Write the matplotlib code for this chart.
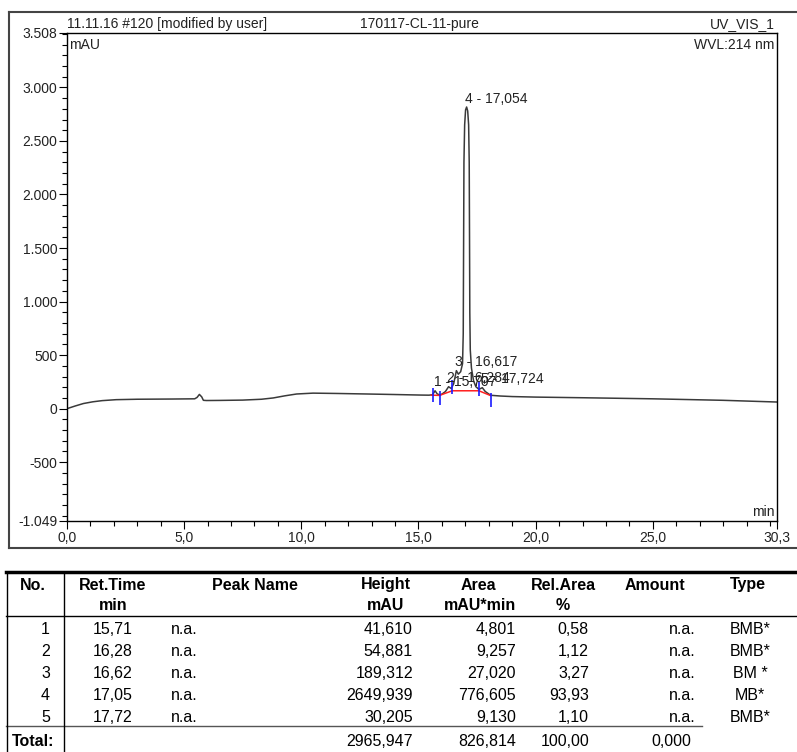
import matplotlib
matplotlib.use("Agg")
import numpy as np
import matplotlib.pyplot as plt
from matplotlib.lines import Line2D
from matplotlib.ticker import FixedLocator, MultipleLocator, FuncFormatter

plt.rcParams["font.family"] = ["Liberation Sans", "DejaVu Sans"]

# UV trace, time in min, signal in mAU
trace_time = [0.0, 0.35, 0.7, 1.1, 1.5, 2.1, 3.0, 4.5, 5.45, 5.55, 5.65, 5.75, 5.82,
              5.95, 6.5, 7.5, 8.3, 8.8, 9.3, 9.8, 10.5, 11.5, 12.8, 14.0, 15.1,
              15.45, 15.6, 15.707, 15.8, 15.9, 16.0, 16.15, 16.284, 16.4, 16.5,
              16.617, 16.7, 16.8, 16.88, 16.91, 16.925, 16.94, 16.97, 17.01, 17.054,
              17.1, 17.14, 17.165, 17.18, 17.19, 17.21, 17.26, 17.35, 17.45, 17.58,
              17.724, 17.85, 18.08, 18.5, 19.0, 20.0, 22.0, 25.0, 28.0, 30.3]
trace_mau = [0, 25, 48, 64, 75, 84, 88, 90, 92, 105, 133, 110, 78,
             76, 77, 80, 88, 100, 120, 137, 145, 142, 137, 132, 127,
             126, 130, 167, 138, 128, 136, 160, 205, 188, 232,
             355, 322, 345, 420, 700, 1500, 2300, 2650, 2790, 2817,
             2780, 2650, 2300, 1500, 900, 550, 380, 260, 205, 180,
             196, 160, 125, 118, 113, 108, 102, 92, 78, 62]

# integration result
peak_no = [1, 2, 3, 4, 5]
ret_time = [15.707, 16.284, 16.617, 17.054, 17.724]
peak_height = [41.610, 54.881, 189.312, 2649.939, 30.205]
peak_area = [4.801, 9.257, 27.020, 776.605, 9.130]
rel_area = [0.58, 1.12, 3.27, 93.93, 1.10]
peak_type = ["BMB*", "BMB*", "BM *", "MB*", "BMB*"]
total_height = 2965.947
total_area = 826.814
total_rel = 100.00
total_amount = 0.000

# peak delimiters and drawn baseline
delim_time = [15.63, 15.90, 16.44, 17.58, 18.08]
delim_mau = [128, 100, 205, 180, 80]
base_time = [15.55, 15.90, 16.44, 17.58, 18.08]
base_mau = [126, 124, 167, 167, 122]


def dec(v, n):
    return f"{v:.{n}f}".replace(".", ",")


W, H = 797, 752


def fx(px):
    return px / W


def fy(py):
    return 1 - py / H


fig = plt.figure(figsize=(W / 100, H / 100), dpi=100)

ax = fig.add_axes([fx(67), fy(521), 710 / W, 488 / H])
ax.plot(trace_time, trace_mau, color="#3a3a3a", lw=1.1)
ax.plot(base_time, base_mau, color="#ff2020", lw=1.1)
ax.plot(delim_time, delim_mau, ls="none", marker="|", ms=10, mew=1.2, color="#1a1aff")

apex = np.interp(ret_time, trace_time, trace_mau)
for n, t, y in zip(peak_no, ret_time, apex):
    ax.annotate(f"{n} - {dec(t, 3)}", (t, y), xytext=(-1, 1), textcoords="offset points",
                ha="left", va="bottom", fontsize=10, color="#222222")

ax.set_xlim(0, 30.3)
ax.set_ylim(-1049, 3508)
ax.xaxis.set_major_locator(FixedLocator([0, 5, 10, 15, 20, 25, 30.3]))
ax.xaxis.set_minor_locator(MultipleLocator(1))
ax.xaxis.set_major_formatter(FuncFormatter(lambda v, p: dec(v, 1)))
ax.yaxis.set_major_locator(FixedLocator([-1049, -500, 0, 500, 1000, 1500, 2000, 2500, 3000, 3508]))
ax.yaxis.set_minor_locator(MultipleLocator(100))
ax.yaxis.set_major_formatter(FuncFormatter(lambda v, p: f"{int(round(v)):,}".replace(",", ".")))
ax.tick_params(which="both", direction="out", width=0.8, labelsize=10, pad=1,
               labelcolor="#222222")
ax.tick_params(which="major", length=6)
ax.tick_params(which="minor", length=3.5)
for s in ax.spines.values():
    s.set_linewidth(1.0)

ax.text(0.003, 0.99, "mAU", transform=ax.transAxes, ha="left", va="top", fontsize=10, color="#222222")
ax.text(0.997, 0.99, "WVL:214 nm", transform=ax.transAxes, ha="right", va="top", fontsize=10, color="#222222")
ax.text(0.997, 0.005, "min", transform=ax.transAxes, ha="right", va="bottom", fontsize=10, color="#222222")

fig.text(fx(67), fy(24), "11.11.16 #120 [modified by user]", ha="left", va="center", fontsize=10, color="#222222")
fig.text(fx(419), fy(24), "170117-CL-11-pure", ha="center", va="center", fontsize=10, color="#222222")
fig.text(fx(775), fy(24), "UV_VIS_1", ha="right", va="center", fontsize=10, color="#222222")

# frame around the chromatogram
for xs, ys in [((9, 800), (12, 12)), ((9, 9), (12, 548)), ((9, 800), (548, 548))]:
    fig.add_artist(Line2D([fx(x) for x in xs], [fy(y) for y in ys], color="#444444", lw=1.5))


def hline(y, x0, x1, lw=1.0, color="black"):
    fig.add_artist(Line2D([fx(x0), fx(x1)], [fy(y), fy(y)], color=color, lw=lw))


def vline(x, y0, y1, lw=1.0):
    fig.add_artist(Line2D([fx(x), fx(x)], [fy(y0), fy(y1)], color="black", lw=lw))


# peak table
hline(572, 6, 797, lw=2.5)
hline(616, 6, 797)
hline(726, 6, 702, color="#555555")
vline(7, 572, 752)
vline(64, 572, 752)

tfs = 11.5
head1 = [("No.", 33), ("Ret.Time", 113), ("Peak Name", 255), ("Height", 386),
         ("Area", 478), ("Rel.Area", 563), ("Amount", 655), ("Type", 748)]
head2 = [("min", 113), ("mAU", 386), ("mAU*min", 480), ("%", 563)]
for txt, x in head1:
    fig.text(fx(x), fy(585), txt, ha="center", va="center", fontsize=tfs, fontweight="bold")
for txt, x in head2:
    fig.text(fx(x), fy(606), txt, ha="center", va="center", fontsize=tfs, fontweight="bold")

for i in range(len(peak_no)):
    y = fy(629 + 22 * i)
    fig.text(fx(50), y, str(peak_no[i]), ha="right", va="center", fontsize=tfs)
    fig.text(fx(113), y, dec(ret_time[i], 2), ha="center", va="center", fontsize=tfs)
    fig.text(fx(171), y, "n.a.", ha="left", va="center", fontsize=tfs)
    fig.text(fx(413), y, dec(peak_height[i], 3), ha="right", va="center", fontsize=tfs)
    fig.text(fx(516), y, dec(peak_area[i], 3), ha="right", va="center", fontsize=tfs)
    fig.text(fx(589), y, dec(rel_area[i], 2), ha="right", va="center", fontsize=tfs)
    fig.text(fx(696), y, "n.a.", ha="right", va="center", fontsize=tfs)
    fig.text(fx(750), y, peak_type[i], ha="center", va="center", fontsize=tfs)

y = fy(742)
fig.text(fx(12), y, "Total:", ha="left", va="center", fontsize=tfs, fontweight="bold")
fig.text(fx(413), y, dec(total_height, 3), ha="right", va="center", fontsize=tfs)
fig.text(fx(516), y, dec(total_area, 3), ha="right", va="center", fontsize=tfs)
fig.text(fx(589), y, dec(total_rel, 2), ha="right", va="center", fontsize=tfs)
fig.text(fx(691), y, dec(total_amount, 3), ha="right", va="center", fontsize=tfs)

fig.savefig("out.png", dpi=100)
